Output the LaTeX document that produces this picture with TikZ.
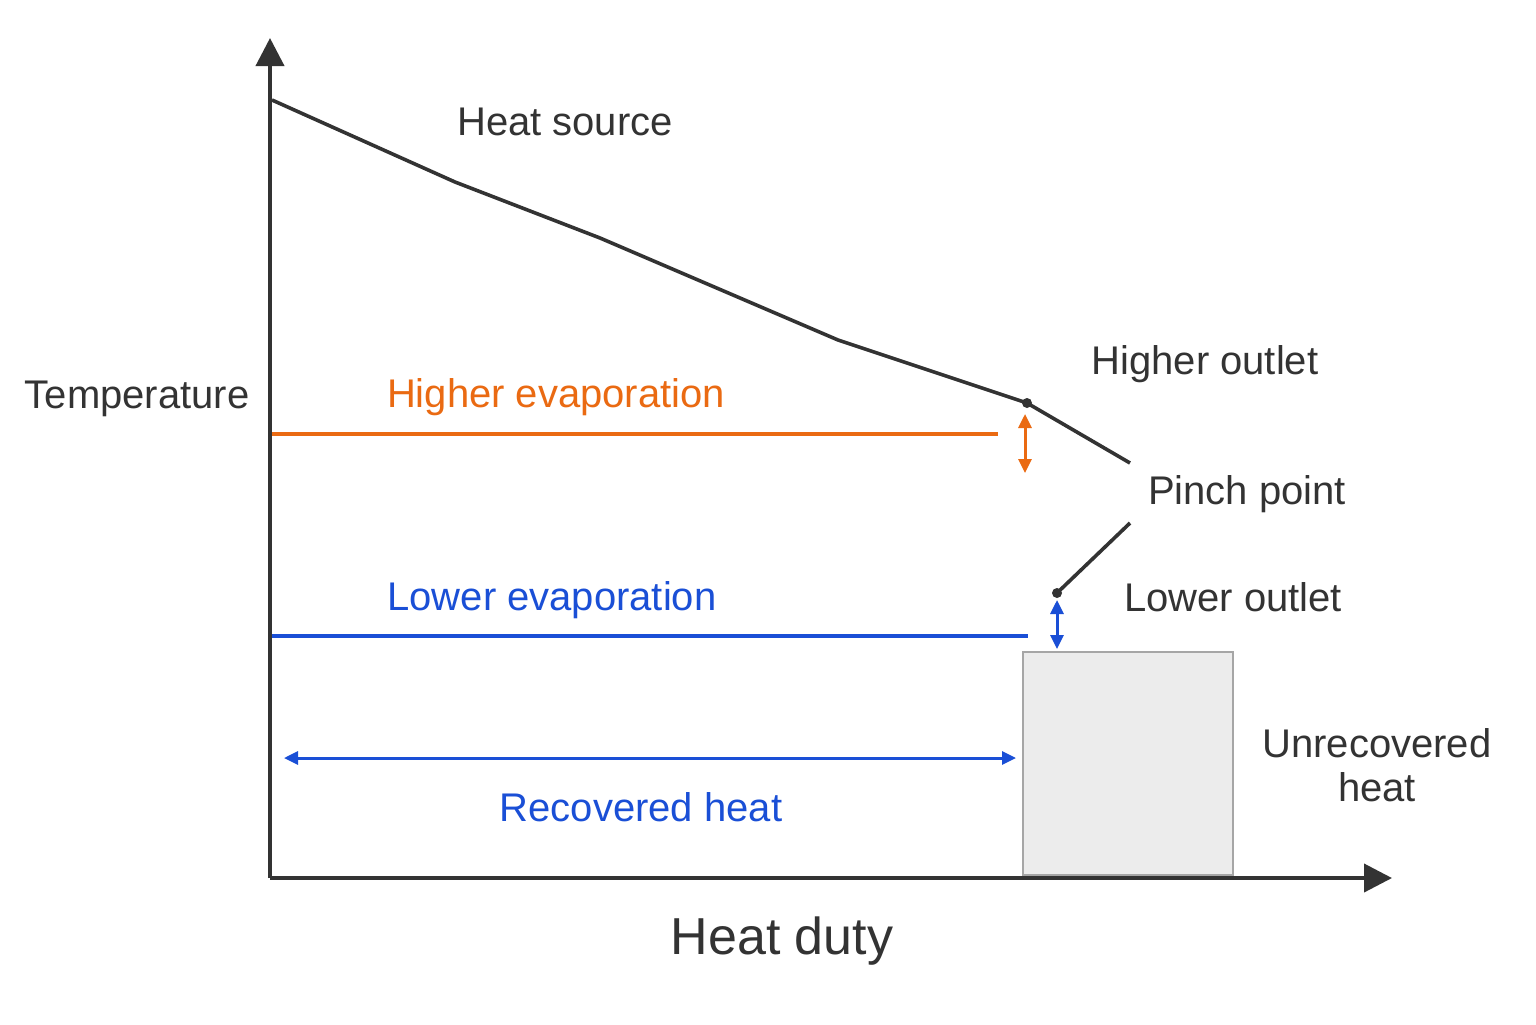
\documentclass[tikz,border=0pt]{standalone}
\usepackage{fontspec}
\setmainfont{Liberation Sans}
\usetikzlibrary{arrows.meta}
\definecolor{dk}{HTML}{333333}
\definecolor{orng}{HTML}{EA6A12}
\definecolor{blu}{HTML}{1A4FD6}
\begin{document}
\begin{tikzpicture}[x=0.5pt,y=-0.5pt,
 lbl/.style={font=\fontsize{20}{22}\selectfont,text=dk},
 dbl/.style={{Triangle[length=7pt,width=6.5pt]}-{Triangle[length=7pt,width=6.5pt]},line width=1.5pt}]
\useasboundingbox (0,0) rectangle (1536,1024);
\fill[white] (0,0) rectangle (1536,1024);
\node[fill=gray!15,draw=gray!70,line width=0.6pt,minimum width=105pt,minimum height=111.5pt,inner sep=0] (box) at (1128,763.5) {};
\coordinate (O) at (270,878);
\coordinate (Y) at (270,38);
\coordinate (X) at (1392,878);
\draw[dk,line width=2pt,-{Triangle[length=14pt,width=14pt]}] (O) -- (Y);
\draw[dk,line width=2pt,-{Triangle[length=14pt,width=14pt]}] (O) -- (X);
\coordinate (s0) at (272,100); \coordinate (s1) at (455,182); \coordinate (s2) at (600,238);
\coordinate (s3) at (838,340); \coordinate (hp) at (1027,403); \coordinate (s5) at (1130,463);
\coordinate (l0) at (1130,523); \coordinate (lp) at (1057,593);
\draw[dk,line width=1.8pt] (s0)--(s1)--(s2)--(s3)--(hp)--(s5);
\draw[dk,line width=1.8pt] (l0)--(lp);
\fill[dk] (hp) circle (2.5pt); \fill[dk] (lp) circle (2.5pt);
\coordinate (oa) at (272,434); \coordinate (ob) at (998,434);
\draw[orng,line width=1.6pt] (oa)--(ob);
\coordinate (ou) at (1025,414); \coordinate (od) at (1025,473);
\draw[orng,dbl] (ou)--(od);
\coordinate (ba) at (272,636); \coordinate (bb) at (1028,636);
\draw[blu,line width=1.6pt] (ba)--(bb);
\coordinate (bu) at (1057,600); \coordinate (bd) at (1057,649);
\draw[blu,dbl] (bu)--(bd);
\coordinate (ra) at (284,758); \coordinate (rb) at (1016,758);
\draw[blu,dbl] (ra)--(rb);
\node[lbl] (hs) at (565,122) {Heat source};
\node[lbl] (ho) at (1205,364) {Higher outlet};
\node[lbl] (pp) at (1247,494) {Pinch point};
\node[lbl] (lo) at (1233,597) {Lower outlet};
\node[lbl,align=center] (uh) at (1377,765) {Unrecovered\\heat};
\node[lbl] (tp) at (137,399) {Temperature};
\node[lbl,text=orng] (he) at (556,397) {Higher evaporation};
\node[lbl,text=blu] (le) at (552,600) {Lower evaporation};
\node[lbl,text=blu] (rh) at (641,807) {Recovered heat};
\node[font=\fontsize{26}{28}\selectfont,text=dk] (hd) at (782,941) {Heat duty};
\end{tikzpicture}
\end{document}
